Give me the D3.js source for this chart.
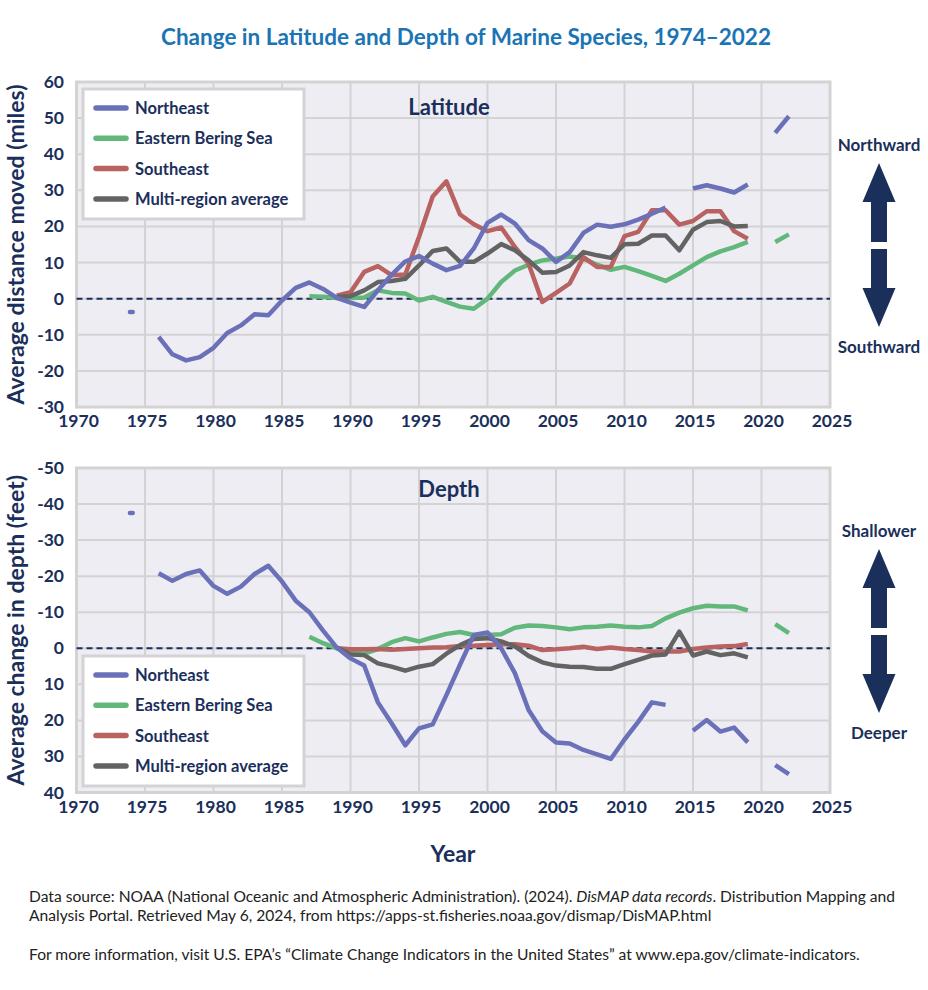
<html>
<head>
    <script src="https://d3js.org/d3.v7.min.js"></script>
    <style>
        body { margin: 0; background: #fff; }
        text { font-family: Lato, "Open Sans", sans-serif; }
        .tick-label { font-size: 17.5px; font-weight: 700; fill: #1b2f5b; }
        .axis-title { font-size: 23px; font-weight: 700; fill: #1b2f5b; }
        .legend-label { font-size: 16.5px; font-weight: 700; fill: #1b2f5b; }
        .panel-title { font-size: 22px; font-weight: 700; fill: #1b2f5b; }
        .side-label { font-size: 17px; font-weight: 700; fill: #1b2f5b; }
        .footer { font-size: 15.6px; fill: #222; }
    </style>
</head>

<body>
    <svg width="928" height="990"></svg>

    <script>
        const width = 928, height = 990;

        // years 1974-2022, null = no data for that year
        const years = [1974, 1975, 1976, 1977, 1978, 1979, 1980, 1981, 1982, 1983, 1984, 1985, 1986, 1987,
                       1988, 1989, 1990, 1991, 1992, 1993, 1994, 1995, 1996, 1997, 1998, 1999, 2000, 2001,
                       2002, 2003, 2004, 2005, 2006, 2007, 2008, 2009, 2010, 2011, 2012, 2013, 2014, 2015,
                       2016, 2017, 2018, 2019, 2020, 2021, 2022];

        const seriesNames = ["Northeast", "Eastern Bering Sea", "Southeast", "Multi-region average"];
        const seriesColors = ["#6a71b9", "#62b87b", "#b86262", "#636363"];

        // latitude (miles, + = northward)
        const latNortheast = [-3.7, null, -10.6, -15.4, -17.1, -16.2, -13.6, -9.5, -7.4, -4.3, -4.6, -0.5, 3.0, 4.5,
                              2.7, 0.2, -1.1, -2.3, 2.3, 6.6, 10.3, 11.8, 9.7, 7.9, 9.1, 13.9, 21.0, 23.3,
                              20.8, 16.2, 13.9, 10.2, 12.9, 18.2, 20.5, 19.9, 20.6, 21.9, 23.5, 25.2, null, 30.5,
                              31.4, 30.5, 29.4, 31.6, null, 45.9, 50.5];
        const latBering = [null, null, null, null, null, null, null, null, null, null, null, null, null, 0.7,
                           0.5, 0.2, 0.2, 0.3, 2.3, 1.6, 1.4, -0.5, 0.5, -0.9, -2.2, -2.8, 0.0, 4.6,
                           7.8, 9.4, 10.6, 11.1, 11.7, 11.1, 9.4, 8.0, 8.8, 7.6, 6.3, 4.9, 6.9, 9.2,
                           11.5, 13.1, 14.3, 15.7, null, 15.7, 17.8];
        const latSoutheast = [null, null, null, null, null, null, null, null, null, null, null, null, null, null,
                              null, 0.8, 1.8, 7.4, 9.0, 6.5, 6.7, 17.1, 28.3, 32.5, 23.3, 20.6, 18.7, 19.7,
                              14.3, 9.7, -0.9, 1.6, 4.2, 11.5, 8.8, 8.8, 17.3, 18.5, 24.5, 24.5, 20.5, 21.5,
                              24.2, 24.2, 18.7, 16.6, null, null, null];
        const latAverage = [null, null, null, null, null, null, null, null, null, null, null, null, null, null,
                            null, 0.5, 0.7, 2.3, 4.6, 4.9, 5.5, 9.2, 13.2, 13.9, 10.2, 10.2, 12.5, 15.1,
                            13.4, 10.6, 7.2, 7.4, 9.2, 12.9, 12.0, 11.3, 15.1, 15.2, 17.5, 17.5, 13.4, 19.1,
                            21.2, 21.5, 20.0, 20.1, null, null, null];

        // depth (feet, + = deeper)
        const depNortheast = [-37.5, null, -20.8, -18.7, -20.6, -21.6, -17.3, -15.1, -17.1, -20.6, -22.9, -18.5, -13.2, -10.0,
                              -4.9, -0.2, 2.8, 4.8, 15.0, 20.8, 26.9, 22.2, 21.1, 13.0, 4.5, -3.7, -4.4, 0.0,
                              6.9, 17.1, 23.0, 26.1, 26.4, 28.2, 29.4, 30.7, 25.3, 20.4, 15.0, 15.7, null, 22.9,
                              19.9, 23.1, 22.0, 26.1, null, 32.4, 34.9];
        const depBering = [null, null, null, null, null, null, null, null, null, null, null, null, null, -3.2,
                           -1.4, 0.0, 0.9, 1.5, 0.2, -1.7, -2.8, -1.9, -3.0, -4.0, -4.5, -3.7, -3.7, -3.9,
                           -5.7, -6.3, -6.2, -5.8, -5.3, -5.8, -6.0, -6.3, -6.0, -5.8, -6.2, -8.3, -9.9, -11.1,
                           -11.8, -11.6, -11.6, -10.5, null, -6.7, -4.2];
        const depSoutheast = [null, null, null, null, null, null, null, null, null, null, null, null, null, null,
                              null, 0.0, 0.3, 0.3, 0.2, 0.4, 0.2, 0.0, -0.2, -0.3, -0.6, -0.7, -0.9, -1.1,
                              -1.1, -0.7, 0.5, 0.3, 0.0, -0.4, 0.2, -0.2, 0.2, 0.5, 0.9, 0.9, 0.9, 0.2,
                              -0.2, -0.5, -0.6, -1.2, null, null, null];
        const depAverage = [null, null, null, null, null, null, null, null, null, null, null, null, null, null,
                            null, -0.2, 1.7, 1.9, 4.2, 5.1, 6.2, 5.1, 4.4, 1.5, -0.9, -2.6, -2.8, -1.9,
                            -0.5, 2.1, 3.9, 4.8, 5.1, 5.2, 5.7, 5.7, 4.4, 3.2, 2.0, 1.7, -4.6, 2.0,
                            0.9, 1.9, 1.4, 2.5, null, null, null];

        const xTicks = [1970, 1975, 1980, 1985, 1990, 1995, 2000, 2005, 2010, 2015, 2020, 2025];
        const latTicks = [-30, -20, -10, 0, 10, 20, 30, 40, 50, 60];
        const depTicks = [-50, -40, -30, -20, -10, 0, 10, 20, 30, 40];

        const navy = "#1b2f5b";
        const svg = d3.select("svg");

        svg.append("text")
           .attr("x", 466).attr("y", 45)
           .attr("text-anchor", "middle")
           .attr("font-size", 22.5).attr("font-weight", 700)
           .attr("fill", "#1b74b4")
           .text("Change in Latitude and Depth of Marine Species, 1974\u20132022");

        const x = d3.scaleLinear().domain([1970, 2025]).range([76.5, 830]);

        function drawPanel(cfg) {
            const y = d3.scaleLinear().domain(cfg.domain).range(cfg.range);
            const g = svg.append("g");
            const top = Math.min(...cfg.range), bottom = Math.max(...cfg.range);

            g.append("rect")
             .attr("x", x.range()[0]).attr("y", top)
             .attr("width", x.range()[1] - x.range()[0]).attr("height", bottom - top)
             .attr("fill", "#efedf4");

            // gridlines
            g.append("g").selectAll("line").data(xTicks).enter().append("line")
             .attr("x1", d => x(d)).attr("x2", d => x(d))
             .attr("y1", top).attr("y2", bottom)
             .attr("stroke", "#d3d3d3").attr("stroke-width", 2);
            g.append("g").selectAll("line").data(cfg.ticks).enter().append("line")
             .attr("x1", x.range()[0]).attr("x2", x.range()[1])
             .attr("y1", d => y(d)).attr("y2", d => y(d))
             .attr("stroke", "#d3d3d3").attr("stroke-width", 2);

            g.append("rect")
             .attr("x", x.range()[0]).attr("y", top)
             .attr("width", x.range()[1] - x.range()[0]).attr("height", bottom - top)
             .attr("fill", "none").attr("stroke", "#d3d3d3").attr("stroke-width", 3);

            // zero line
            g.append("line")
             .attr("x1", x.range()[0]).attr("x2", x.range()[1])
             .attr("y1", y(0)).attr("y2", y(0))
             .attr("stroke", navy).attr("stroke-width", 2)
             .attr("stroke-dasharray", "6,4");

            // tick labels
            g.append("g").selectAll("text").data(cfg.ticks).enter().append("text")
             .attr("class", "tick-label")
             .attr("x", 64).attr("y", d => y(d) + 6)
             .attr("text-anchor", "end")
             .text(d => d);
            g.append("g").selectAll("text").data(xTicks).enter().append("text")
             .attr("class", "tick-label")
             .attr("x", d => x(d) + 2).attr("y", bottom + 20)
             .attr("text-anchor", "middle")
             .text(d => d);

            g.append("text")
             .attr("class", "axis-title")
             .attr("transform", `translate(24,${(top + bottom) / 2}) rotate(-90)`)
             .attr("text-anchor", "middle")
             .text(cfg.yLabel);

            g.append("text")
             .attr("class", "panel-title")
             .attr("x", 449).attr("y", top + cfg.titleDy)
             .attr("text-anchor", "middle")
             .text(cfg.title);

            // lines
            const line = d3.line()
                           .defined(d => d.v != null)
                           .x(d => x(d.year))
                           .y(d => y(d.v));

            const order = [1, 2, 3, 0];
            order.forEach(i => {
                const pts = years.map((yr, k) => ({ year: yr, v: cfg.series[i][k] }));
                g.append("path")
                 .datum(pts)
                 .attr("d", line)
                 .attr("fill", "none")
                 .attr("stroke", seriesColors[i])
                 .attr("stroke-width", 4.5)
                 .attr("stroke-linejoin", "round");

                // single years with no neighbours drawn as a short dash
                const lonely = pts.filter((p, k) => p.v != null &&
                    (k === 0 || pts[k - 1].v == null) &&
                    (k === pts.length - 1 || pts[k + 1].v == null));
                g.selectAll(null).data(lonely).enter().append("line")
                 .attr("x1", d => x(d.year - 0.1)).attr("x2", d => x(d.year + 0.1))
                 .attr("y1", d => y(d.v)).attr("y2", d => y(d.v))
                 .attr("stroke", seriesColors[i])
                 .attr("stroke-width", 4.5)
                 .attr("stroke-linecap", "round");
            });

            // legend
            const lg = g.append("g").attr("transform", `translate(83,${cfg.legendY})`);
            lg.append("rect")
              .attr("width", 221).attr("height", 130)
              .attr("fill", "#fff").attr("stroke", "#d3d3d3").attr("stroke-width", 3);
            seriesNames.forEach((name, i) => {
                const row = lg.append("g").attr("transform", `translate(0,${19 + i * 30.3})`);
                row.append("line")
                   .attr("x1", 13).attr("x2", 43)
                   .attr("stroke", seriesColors[i]).attr("stroke-width", 5.5)
                   .attr("stroke-linecap", "round");
                row.append("text")
                   .attr("class", "legend-label")
                   .attr("x", 52).attr("y", 6)
                   .text(name);
            });

            // direction arrows
            const a = svg.append("g").attr("fill", navy);
            const cx = 879, t = cfg.arrowTop;
            a.append("path")
             .attr("d", `M${cx},${t} L${cx + 16.5},${t + 39} L${cx + 8},${t + 39} L${cx + 8},${t + 79}
                         L${cx - 8},${t + 79} L${cx - 8},${t + 39} L${cx - 16.5},${t + 39} Z`);
            a.append("path")
             .attr("d", `M${cx},${t + 164} L${cx + 16.5},${t + 125} L${cx + 8},${t + 125} L${cx + 8},${t + 86}
                         L${cx - 8},${t + 86} L${cx - 8},${t + 125} L${cx - 16.5},${t + 125} Z`);
            svg.append("text").attr("class", "side-label")
               .attr("x", cx).attr("y", t - 12).attr("text-anchor", "middle")
               .text(cfg.upLabel);
            svg.append("text").attr("class", "side-label")
               .attr("x", cx).attr("y", t + 190).attr("text-anchor", "middle")
               .text(cfg.downLabel);
        }

        drawPanel({
            domain: [-30, 60], range: [407, 82], ticks: latTicks,
            series: [latNortheast, latBering, latSoutheast, latAverage],
            yLabel: "Average distance moved (miles)",
            title: "Latitude", titleDy: 33, legendY: 89,
            arrowTop: 163, upLabel: "Northward", downLabel: "Southward"
        });

        drawPanel({
            domain: [-50, 40], range: [468, 792.5], ticks: depTicks,
            series: [depNortheast, depBering, depSoutheast, depAverage],
            yLabel: "Average change in depth (feet)",
            title: "Depth", titleDy: 29, legendY: 656,
            arrowTop: 549, upLabel: "Shallower", downLabel: "Deeper"
        });

        svg.append("text")
           .attr("x", 453).attr("y", 862)
           .attr("text-anchor", "middle")
           .attr("font-size", 23).attr("font-weight", 700)
           .attr("fill", navy)
           .text("Year");

        const foot = svg.append("g").attr("class", "footer");
        const l1 = foot.append("text").attr("class", "footer").attr("x", 29).attr("y", 902);
        l1.append("tspan").text("Data source: NOAA (National Oceanic and Atmospheric Administration). (2024). ");
        l1.append("tspan").attr("font-style", "italic").text("DisMAP data records");
        l1.append("tspan").text(". Distribution Mapping and");
        foot.append("text").attr("class", "footer").attr("x", 29).attr("y", 921)
            .text("Analysis Portal. Retrieved May 6, 2024, from https://apps-st.fisheries.noaa.gov/dismap/DisMAP.html");
        foot.append("text").attr("class", "footer").attr("x", 29).attr("y", 960)
            .text("For more information, visit U.S. EPA\u2019s \u201cClimate Change Indicators in the United States\u201d at www.epa.gov/climate-indicators.");
    </script>

</body>
</html>
